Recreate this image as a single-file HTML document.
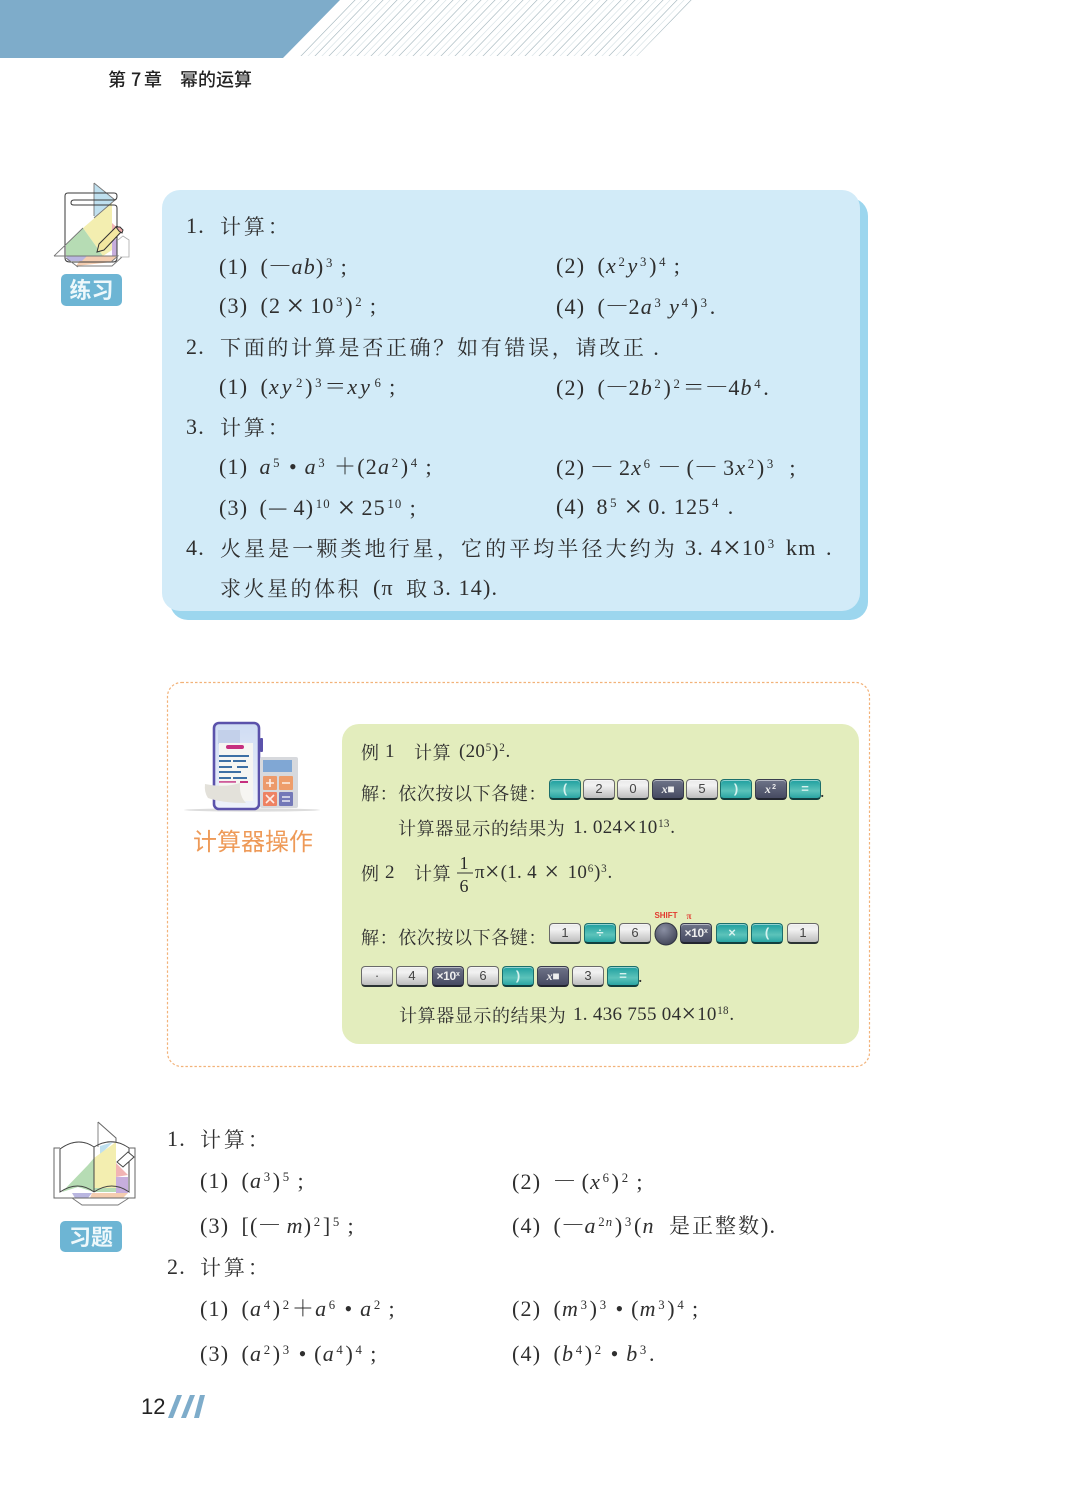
<!DOCTYPE html>
<html lang="zh"><head><meta charset="utf-8"><title>第7章 幂的运算</title>
<style>
html,body{margin:0;padding:0;background:#fff}
#p{position:relative;width:1082px;height:1508px;overflow:hidden;background:#fff;font-family:"Liberation Serif","Noto Serif CJK SC",serif;color:#2f2f2f}
.abs{position:absolute}
.t{position:absolute;white-space:nowrap;line-height:30px;font-size:22px;letter-spacing:1.2px}
.c{letter-spacing:2.9px;font-size:21px;font-family:"Noto Serif CJK SC",serif;font-weight:400}
.g{font-size:19px;line-height:26px;letter-spacing:.3px}
.g .c{letter-spacing:.6px;font-size:18px}
sup{font-size:.58em;line-height:0;vertical-align:baseline;position:relative;top:-.58em;margin:0 1.5px}
.g sup{margin:0 .5px}
i{font-style:italic}
.x{font-size:32px;line-height:0;position:relative;top:3px;letter-spacing:1px;word-spacing:-4px}
.g .x{font-size:26px;top:2px;word-spacing:0}
.e{font-family:"Noto Serif CJK SC",serif;font-weight:300;letter-spacing:.5px}
.k{position:absolute;box-sizing:border-box;width:32px;height:21px;border-radius:4px;font:13px/18px "Liberation Sans",sans-serif;text-align:center;border:1px solid #6a6a6a;border-bottom:2.5px solid #2b3333;box-shadow:inset 0 1px 0 rgba(255,255,255,.5)}
.w{background:linear-gradient(#e9e9e9,#f2f2f2 30%,#bdbdbd);color:#444}
.b{background:linear-gradient(#1e9f9f,#5cc3ba 60%,#2aa5a3);color:#d5f2ee;font-weight:bold;border-color:#1c6f6c;border-bottom-color:#123f3f}
.d{background:linear-gradient(#6e7388,#474b62);color:#eee;border-color:#3a3d4d;border-bottom-color:#22252f;font-size:12px;font-weight:bold;letter-spacing:-.3px}
.d i{font-family:"Liberation Serif",serif}
</style></head><body><div id="p">

<svg class="abs" style="left:0;top:0" width="1082" height="1508" viewBox="0 0 1082 1508">
<defs>
<pattern id="h" width="14" height="20" patternUnits="userSpaceOnUse" patternTransform="translate(300 56) skewX(-44)">
<line x1="1" y1="0" x2="1" y2="20" stroke="#aebfc5" stroke-width="1"/>
<line x1="8" y1="0" x2="8" y2="20" stroke="#dbe5e8" stroke-width="1"/>
</pattern>
<linearGradient id="ph" x1="0" y1="0" x2="0" y2="1"><stop offset="0" stop-color="#cfdcf3"/><stop offset="1" stop-color="#eef1fb"/></linearGradient>
<radialGradient id="ci" cx=".4" cy=".3" r=".8"><stop offset="0" stop-color="#8a8fa3"/><stop offset="1" stop-color="#3a3e50"/></radialGradient>
</defs>
<polygon points="0,0 340,0 283,58 0,58" fill="#7eacca"/>
<polygon points="352,0 692,0 637,56 298,56" fill="url(#h)"/>

<!-- practice box -->
<rect x="170" y="198" width="698" height="422" rx="18" fill="#9cd6ee"/>
<rect x="162" y="190" width="698" height="421" rx="18" fill="#d2ebf8"/>

<!-- practice icon -->
<g>
<polygon points="94,183 115,200 94,217" fill="#bfe0ef"/>
<polygon points="83,228 112,203 112,250 103,256" fill="#f3eeb0"/>
<polygon points="83,228 66,244 66,256 103,256" fill="#b6dcb4"/>
<polygon points="112,223 122,232 112,242" fill="#f1b4b4"/>
<polygon points="112,242 117,238 117,256 112,256" fill="#c7aedd"/>
<polygon points="83,256 117,256 112,262 76,266" fill="#f4cdb0"/>
<polygon points="66,256 87,256 82,261 68,261" fill="#b9b6e0"/>
<path d="M94 183 V216 M94 183 L115 200 L94 218" fill="none" stroke="#777" stroke-width=".9"/>
<path d="M65 196 Q65 193 68 193 L114 193 Q117 193 117 196 Q117 200 114 200 L74 200 Q71 200 71 203 Q71 205 74 205 L114 205 Q117 205 117 208 L117 258 Q117 262 113 262 L70 262 Q65 262 65 258 Z" fill="none" stroke="#3a3a3a" stroke-width="1"/>
<path d="M54 256 L83 228 M54 256 H118 L111 262 M76 266 H112 L122 257 M66 258 L78 267" fill="none" stroke="#777" stroke-width=".9"/>
<path d="M118 240 L123 236 L129 240 V257 H120" fill="#fff" stroke="#aaa" stroke-width=".8"/>
<polygon points="99,244 117,226 122,231 104,250 97,252" fill="#f3e7a0" stroke="#333" stroke-width="1"/>
<polygon points="116,227 120,227 123,230 122,233 119,231" fill="#eeaaaa" stroke="#333" stroke-width="1"/>
<rect x="61" y="274" width="61" height="32" rx="5" fill="#6db5d4"/>
<text x="91.5" y="298" text-anchor="middle" font-family="Noto Sans CJK SC,sans-serif" font-weight="700" font-size="22" fill="#eef8fb">练习</text>
</g>

<!-- calc frame -->
<rect x="167.5" y="682.5" width="702" height="384" rx="14" fill="#fff" stroke="#f2b279" stroke-width="1.2" stroke-dasharray="2.5 2"/>
<rect x="342" y="724" width="517" height="320" rx="17" fill="#e3edbd"/>

<!-- calc icon -->
<g>
<ellipse cx="252" cy="810" rx="68" ry="1.6" fill="#dcdcdc"/>
<rect x="260" y="738" width="3" height="14" fill="#5b52ab" rx="1"/>
<rect x="214" y="723" width="45" height="86" rx="5" fill="url(#ph)" stroke="#5b52ab" stroke-width="2.6"/>
<rect x="218" y="730" width="22" height="14" fill="#c3d0ea"/>
<rect x="219" y="743" width="34" height="58" fill="#f6f5f2"/>
<rect x="226" y="745" width="18" height="4" rx="2" fill="#c62f7f"/>
<g fill="#3d6fa5"><rect x="219" y="755" width="30" height="2"/><rect x="219" y="760" width="12" height="2"/><rect x="233" y="760" width="13" height="2"/><rect x="219" y="766" width="13" height="2"/><rect x="237" y="766" width="11" height="2"/><rect x="219" y="771" width="22" height="2"/><rect x="219" y="777" width="12" height="2"/><rect x="233" y="777" width="14" height="2"/></g>
<rect x="219" y="781" width="17" height="1.8" fill="#cf5b9a"/><rect x="240" y="781" width="8" height="2" fill="#c62f7f"/>
<path d="M205 784 Q225 788 240 783 Q239 796 246 803 Q222 803 208 798 Q204 792 205 784Z" fill="#e3e1da"/>
<rect x="260" y="757" width="38" height="51" rx="2" fill="#d7d9dd"/>
<rect x="263" y="760" width="29" height="12" fill="#80a7d4"/>
<rect x="263" y="776" width="14" height="14" rx="1" fill="#ec9a6b"/><rect x="279" y="776" width="14" height="14" rx="1" fill="#ee9d6a"/>
<rect x="263" y="792" width="14" height="14" rx="1" fill="#ee8263"/><rect x="279" y="792" width="14" height="14" rx="1" fill="#7378b8"/>
<g stroke="#fff" stroke-width="1.6" opacity=".85"><path d="M266 783H274M270 779V787M282 783H290M266 795L274 803M274 795L266 803M282 797H290M282 801H290"/></g>
<text x="253" y="850" text-anchor="middle" font-family="Noto Sans CJK SC,sans-serif" font-size="24" fill="#ee9a58">计算器操作</text>
</g>

<!-- exercise icon -->
<g>
<polygon points="98,1146 98,1122 116,1138 116,1142" fill="#fff"/>
<polygon points="100,1146 113,1142 100,1155" fill="#bfe0ef"/>
<polygon points="116,1142 94,1158 94,1192 116,1188" fill="#f3eeb0"/>
<polygon points="88,1165 62,1192 78,1187 94,1192 116,1192 116,1188 94,1188 94,1158" fill="#b6dcb4"/>
<polygon points="116,1163 128,1175 116,1177" fill="#f1b4b4"/>
<polygon points="116,1177 128,1177 128,1193 116,1193" fill="#c7aedd"/>
<polygon points="72,1193 92,1193 88,1198 75,1198" fill="#b9b6e0"/>
<polygon points="92,1193 128,1193 123,1198 90,1198" fill="#f4cdb0"/>
<path d="M98 1147 V1122" fill="none" stroke="#999" stroke-width="1.2"/>
<path d="M98 1122 L116 1138 V1142" fill="none" stroke="#666" stroke-width="1"/>
<path d="M60 1149 V1192 Q78 1180 94 1192 M60 1149 Q78 1136 94 1147 V1192 M94 1147 Q112 1136 129 1148 V1192 Q112 1180 94 1192" fill="none" stroke="#444" stroke-width="1"/>
<path d="M60 1148 H54 V1198 H135 V1148 H129" fill="none" stroke="#666" stroke-width="1"/>
<path d="M72 1198 L82 1205 H118 L129 1198" fill="none" stroke="#777" stroke-width=".9"/>
<polygon points="117,1162 128,1152 134,1157 123,1167" fill="#fff" stroke="#444" stroke-width="1"/>
<rect x="60" y="1221" width="62" height="31" rx="5" fill="#6db5d4"/>
<text x="91" y="1245" text-anchor="middle" font-family="Noto Sans CJK SC,sans-serif" font-weight="700" font-size="22" fill="#eef8fb">习题</text>
</g>

<!-- page mark -->
<g fill="#7eacca"><polygon points="168,1418 173,1418 182,1395 177,1395"/><polygon points="181,1418 186,1418 195,1395 190,1395"/><polygon points="194,1418 199,1418 205,1395 200,1395"/></g>

<!-- fraction -->
<line x1="457" y1="873" x2="473" y2="873" stroke="#333" stroke-width="1"/>
<text x="464" y="869" font-family="Liberation Serif" font-size="18" text-anchor="middle" fill="#2a2a2a">1</text>
<text x="464" y="892" font-family="Liberation Serif" font-size="18" text-anchor="middle" fill="#2a2a2a">6</text>

<circle cx="666" cy="934" r="11" fill="url(#ci)" stroke="#2f3340"/>
<text x="666" y="918" font-family="Liberation Sans" font-weight="700" font-size="8" text-anchor="middle" fill="#e23a30">SHIFT</text>
<text x="689" y="919" font-family="Liberation Serif" font-weight="700" font-size="9" text-anchor="middle" fill="#e23a30">π</text>
</svg>

<div class="t" style="left:108px;top:66px;font:500 18px/26px 'Noto Sans CJK SC',sans-serif;color:#222;letter-spacing:0">第</div>
<div class="t" style="left:131px;top:66px;font:500 18px/26px 'Noto Sans CJK SC',sans-serif;color:#222;letter-spacing:0">7</div>
<div class="t" style="left:144px;top:66px;font:500 18px/26px 'Noto Sans CJK SC',sans-serif;color:#222;letter-spacing:0">章</div>
<div class="t" style="left:180px;top:66px;font:500 18px/26px 'Noto Sans CJK SC',sans-serif;color:#222;letter-spacing:0">幂的运算</div>

<!-- practice -->
<div class="t" style="left:186px;top:211px">1.</div><div class="t" style="left:220px;top:211px"><span class="c">计算：</span></div>
<div class="t" style="left:219px;top:251px">(1)&ensp;(<span class="e">—</span><i>ab</i>)<sup>3</sup>&thinsp;;</div>
<div class="t" style="left:556px;top:251px">(2)&ensp;(<i>x</i><sup>2</sup><i>y</i><sup>3</sup>)<sup>4</sup>&thinsp;;</div>
<div class="t" style="left:219px;top:291px">(3)&ensp;(2<span class="x"> × </span>10<sup>3</sup>)<sup>2</sup>&thinsp;;</div>
<div class="t" style="left:556px;top:291px">(4)&ensp;(<span class="e">—</span>2<i>a</i><sup>3</sup>&thinsp;<i>y</i><sup>4</sup>)<sup>3</sup>.</div>
<div class="t" style="left:186px;top:332px">2.</div><div class="t" style="left:220px;top:332px"><span class="c" style="letter-spacing:2.7px">下面的计算是否正确？如有错误，请改正</span> .</div>
<div class="t" style="left:219px;top:372px">(1)&ensp;(<i style="letter-spacing:3px">xy</i><sup>2</sup>)<sup>3</sup>＝<i style="letter-spacing:3px">xy</i><sup>6</sup>&thinsp;;</div>
<div class="t" style="left:556px;top:372px">(2)&ensp;(<span class="e">—</span>2<i>b</i><sup>2</sup>)<sup>2</sup>＝<span class="e">—</span>4<i>b</i><sup>4</sup>.</div>
<div class="t" style="left:186px;top:412px">3.</div><div class="t" style="left:220px;top:412px"><span class="c">计算：</span></div>
<div class="t" style="left:219px;top:452px">(1)&thinsp;&thinsp;<i>a</i><sup>5</sup> • <i>a</i><sup>3</sup> ＋(2<i>a</i><sup>2</sup>)<sup>4</sup>&thinsp;;</div>
<div class="t" style="left:556px;top:452px">(2)&thinsp;<span class="e">—</span>&thinsp;2<i>x</i><sup>6</sup>&thinsp;<span class="e">—</span>&thinsp;(<span class="e">—</span>&thinsp;3<i>x</i><sup>2</sup>)<sup>3</sup> &nbsp;;</div>
<div class="t" style="left:219px;top:492px">(3)&thinsp;&thinsp;(<span class="e">—</span>&thinsp;4)<sup>10</sup><span class="x"> × </span>25<sup>10</sup>&thinsp;;</div>
<div class="t" style="left:556px;top:492px">(4)&thinsp;&thinsp;8<sup>5</sup><span class="x"> × </span>0. 125<sup>4</sup> .</div>
<div class="t" style="left:186px;top:533px">4.</div><div class="t" style="left:220px;top:533px"><span class="c" style="letter-spacing:3.1px">火星是一颗类地行星，它的平均半径大约为</span></div>
<div class="t" style="left:685px;top:533px">3. 4<span class="x">×</span>10<sup>3</sup></div>
<div class="t" style="left:786px;top:533px">km</div><div class="t" style="left:826px;top:533px">.</div>
<div class="t" style="left:220px;top:573px"><span class="c" style="letter-spacing:2.5px">求火星的体积</span></div>
<div class="t" style="left:373px;top:573px">(π</div>
<div class="t" style="left:406px;top:573px"><span class="c">取</span></div>
<div class="t" style="left:433px;top:573px">3. 14).</div>

<!-- calculator text -->
<div class="t g" style="left:361px;top:739px"><span class="c">例</span></div>
<div class="t g" style="left:385px;top:739px">1</div>
<div class="t g" style="left:414px;top:739px"><span class="c">计算</span></div>
<div class="t g" style="left:459px;top:739px">(20<sup>5</sup>)<sup>2</sup>.</div>
<div class="t g" style="left:361px;top:780px"><span class="c">解：依次按以下各键：</span></div>
<div class="t" style="left:820px;top:776px;font-size:18px">.</div>
<div class="t g" style="left:398px;top:815px"><span class="c">计算器显示的结果为</span></div>
<div class="t g" style="left:573px;top:815px">1. 024<span class="x">×</span>10<sup>13</sup>.</div>
<div class="t g" style="left:361px;top:860px"><span class="c">例</span></div>
<div class="t g" style="left:385px;top:860px">2</div>
<div class="t g" style="left:414px;top:860px"><span class="c">计算</span></div>
<div class="t g" style="left:475px;top:860px">π<span class="x">×</span>(1. 4<span class="x"> × </span>10<sup>6</sup>)<sup>3</sup>.</div>
<div class="t g" style="left:361px;top:924px"><span class="c">解：依次按以下各键：</span></div>
<div class="t" style="left:638px;top:961px;font-size:18px">.</div>
<div class="t g" style="left:399px;top:1002px"><span class="c">计算器显示的结果为</span></div>
<div class="t g" style="left:573px;top:1002px">1. 436 755 04<span class="x">×</span>10<sup>18</sup>.</div>

<!-- keys row 1 -->
<div class="k b" style="left:549px;top:779px">(</div>
<div class="k w" style="left:583px;top:779px">2</div>
<div class="k w" style="left:617px;top:779px">0</div>
<div class="k d" style="left:652px;top:779px"><i>x</i>■</div>
<div class="k w" style="left:686px;top:779px">5</div>
<div class="k b" style="left:720px;top:779px">)</div>
<div class="k d" style="left:755px;top:779px"><i>x</i><sup>2</sup></div>
<div class="k b" style="left:789px;top:779px">=</div>
<!-- keys row 2 -->
<div class="k w" style="left:549px;top:923px">1</div>
<div class="k b" style="left:584px;top:923px">÷</div>
<div class="k w" style="left:619px;top:923px">6</div>
<div class="k d" style="left:680px;top:923px">×10<sup style="margin:0">x</sup></div>
<div class="k b" style="left:716px;top:923px">×</div>
<div class="k b" style="left:751px;top:923px">(</div>
<div class="k w" style="left:787px;top:923px">1</div>
<!-- keys row 3 -->
<div class="k w" style="left:361px;top:966px">·</div>
<div class="k w" style="left:396px;top:966px">4</div>
<div class="k d" style="left:432px;top:966px">×10<sup style="margin:0">x</sup></div>
<div class="k w" style="left:467px;top:966px">6</div>
<div class="k b" style="left:502px;top:966px">)</div>
<div class="k d" style="left:537px;top:966px"><i>x</i>■</div>
<div class="k w" style="left:572px;top:966px">3</div>
<div class="k b" style="left:607px;top:966px">=</div>

<!-- exercises -->
<div class="t" style="left:167px;top:1124px">1.</div><div class="t" style="left:200px;top:1124px"><span class="c">计算：</span></div>
<div class="t" style="left:200px;top:1166px">(1)&ensp;(<i>a</i><sup>3</sup>)<sup>5</sup>&thinsp;;</div>
<div class="t" style="left:512px;top:1166px">(2)&ensp;<span class="e">—</span>&thinsp;(<i>x</i><sup>6</sup>)<sup>2</sup>&thinsp;;</div>
<div class="t" style="left:200px;top:1210px">(3)&ensp;[(<span class="e">—</span>&thinsp;<i>m</i>)<sup>2</sup>]<sup>5</sup>&thinsp;;</div>
<div class="t" style="left:512px;top:1210px">(4)&ensp;(<span class="e">—</span><i>a</i><sup>2<i>n</i></sup>)<sup>3</sup>(<i>n</i></div>
<div class="t" style="left:669px;top:1210px"><span class="c" style="letter-spacing:2px">是正整数</span>).</div>
<div class="t" style="left:167px;top:1252px">2.</div><div class="t" style="left:200px;top:1252px"><span class="c">计算：</span></div>
<div class="t" style="left:200px;top:1294px">(1)&ensp;(<i>a</i><sup>4</sup>)<sup>2</sup>＋<i>a</i><sup>6</sup> • <i>a</i><sup>2</sup>&thinsp;;</div>
<div class="t" style="left:512px;top:1294px">(2)&ensp;(<i>m</i><sup>3</sup>)<sup>3</sup> • (<i>m</i><sup>3</sup>)<sup>4</sup>&thinsp;;</div>
<div class="t" style="left:200px;top:1339px">(3)&ensp;(<i>a</i><sup>2</sup>)<sup>3</sup> • (<i>a</i><sup>4</sup>)<sup>4</sup>&thinsp;;</div>
<div class="t" style="left:512px;top:1339px">(4)&ensp;(<i>b</i><sup>4</sup>)<sup>2</sup> • <i>b</i><sup>3</sup>.</div>

<div class="t" style="left:141px;top:1392px;font:22px/30px 'Liberation Sans',sans-serif;color:#222;letter-spacing:0">12</div>
</div></body></html>
